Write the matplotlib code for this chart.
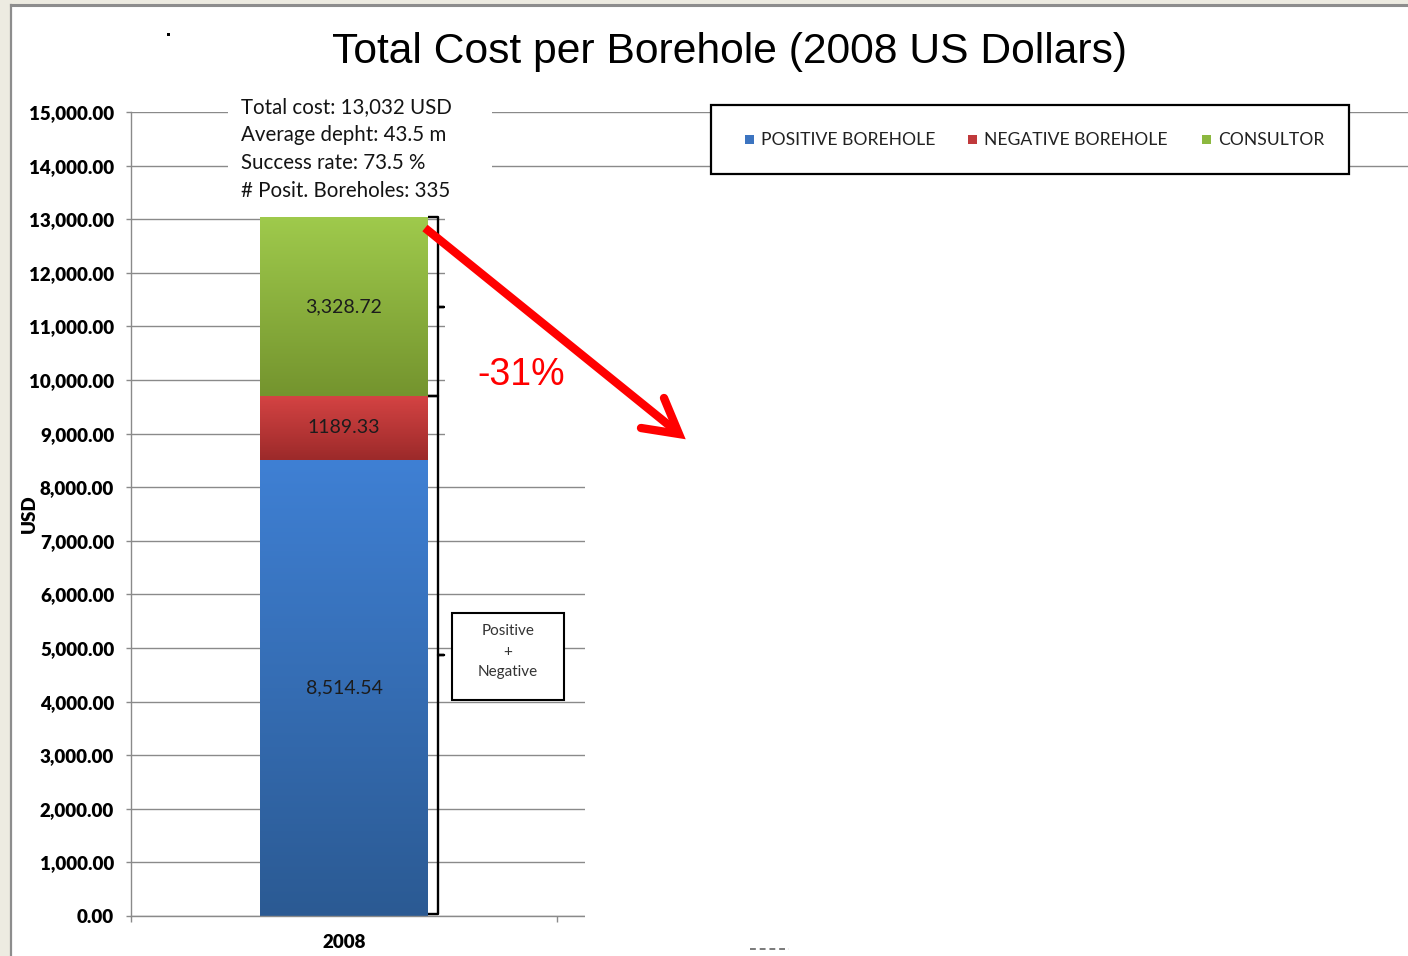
import numpy as np
import matplotlib
matplotlib.use("Agg")
import matplotlib.pyplot as plt
from matplotlib.patches import Rectangle
from matplotlib.colors import LinearSegmentedColormap
from matplotlib.ticker import FuncFormatter, MultipleLocator, FixedLocator

# ---- data -------------------------------------------------------------
categories = ["2008"]
series_names = ["POSITIVE BOREHOLE", "NEGATIVE BOREHOLE", "CONSULTOR"]
positive = [8514.54]
negative = [1189.33]
consultor = [3328.72]
label_formats = ["{:,.2f}", "{:.2f}", "{:,.2f}"]
info_lines = ["Total cost: 13,032 USD", "Average depht: 43.5 m",
              "Success rate: 73.5 %", "# Posit. Boreholes: 335"]
bracket_note = ["Positive", "+", "Negative"]
change_label = "-31%"
title = "Total Cost per Borehole (2008 US Dollars)"
y_label = "USD"
y_max, y_step = 15000, 1000

# ---- styling ----------------------------------------------------------
W, H = 1408, 956
CAL = "Lato"
ARIAL = "Liberation Sans"
grad_colors = [("#3f80d4", "#2b5a93"),   # positive (top, bottom)
               ("#d44343", "#9c2a2a"),   # negative
               ("#9fca4c", "#74942e")]   # consultor
legend_colors = ["#3c74c0", "#c0393b", "#8cb83f"]
grid_grey = "#8a8a8a"

fig = plt.figure(figsize=(W / 100, H / 100), dpi=100, facecolor="#edebe1")

# white slide area with a grey frame on the left and top
fig.add_artist(Rectangle((11 / W, 0), 1, 1 - 5 / H, transform=fig.transFigure,
                         facecolor="white", edgecolor="none", zorder=-5))
fig.add_artist(plt.Line2D([11 / W, 11 / W], [0, 1 - 5 / H], transform=fig.transFigure,
                          color="#8d8d8d", lw=1.6, zorder=-4))
fig.add_artist(plt.Line2D([11 / W, 1], [1 - 5 / H, 1 - 5 / H], transform=fig.transFigure,
                          color="#8d8d8d", lw=2.2, zorder=-4))

# ---- main chart -------------------------------------------------------
ax_left, ax_right, ax_top, ax_bottom = 131, 1408, 112, 916
cat_px = 426.0
ax = fig.add_axes([ax_left / W, 1 - ax_bottom / H,
                   (ax_right - ax_left) / W, (ax_bottom - ax_top) / H])
ax.patch.set_alpha(0)

x = np.arange(len(categories))
bar_w = 168 / cat_px


def gradient_bar(xc, bottom, height, top_c, bot_c, z):
    bar = ax.bar(xc, height, width=bar_w, bottom=bottom, color=top_c,
                 linewidth=0, zorder=z)[0]
    cmap = LinearSegmentedColormap.from_list("g", [bot_c, top_c])
    grad = np.linspace(0, 1, 256).reshape(-1, 1)
    im = ax.imshow(grad, cmap=cmap, origin="lower", aspect="auto",
                   extent=[xc - bar_w / 2, xc + bar_w / 2, bottom, bottom + height],
                   interpolation="bilinear", zorder=z + 0.1)
    im.set_clip_path(bar)
    return bar


series = [positive, negative, consultor]
bottoms = np.zeros(len(categories))
for vals, (tc, bc), fmt in zip(series, grad_colors, label_formats):
    vals = np.asarray(vals)
    for i in range(len(categories)):
        gradient_bar(x[i], bottoms[i], vals[i], tc, bc, 2)
        ax.text(x[i], bottoms[i] + vals[i] / 2, fmt.format(vals[i]),
                ha="center", va="center", fontsize=14, family=CAL,
                color="#1c1c1c", zorder=4)
    bottoms = bottoms + vals

# curly brackets to the right of the stack
xr = bar_w / 2
xb = (438 - 344) / cat_px
xt = (444 - 344) / cat_px
pos0 = np.asarray(positive)[0]
neg0 = np.asarray(negative)[0]
cons0 = np.asarray(consultor)[0]
total = pos0 + neg0 + cons0
low_top = pos0 + neg0


def bracket(top, bot):
    mid = (top + bot) / 2
    ax.plot([xr, xb, xb, xt, xb, xb, xr], [top, top, mid, mid, mid, bot, bot],
            color="black", lw=1.7, solid_joinstyle="round", solid_capstyle="butt",
            zorder=5, clip_on=False)


bracket(total, low_top)
bracket(low_top, 40)

ax.set_ylim(0, y_max)
ax.set_xlim(-0.5, -0.5 + (ax_right - ax_left) / cat_px)
ax.yaxis.set_major_locator(MultipleLocator(y_step))
ax.yaxis.set_major_formatter(FuncFormatter(lambda v, p: f"{v:,.2f}"))
ax.set_axisbelow(True)
ax.yaxis.grid(True, color=grid_grey, lw=1.0)
for s in ("top", "right"):
    ax.spines[s].set_visible(False)
for s in ("left", "bottom"):
    ax.spines[s].set_color(grid_grey)
    ax.spines[s].set_linewidth(1.0)
ax.tick_params(axis="y", direction="out", length=3.6, width=1, color=grid_grey,
               pad=8.5, labelsize=13.5)
for lab in ax.get_yticklabels():
    lab.set_fontweight("heavy")
    lab.set_family(CAL)

ax.xaxis.set_major_locator(FixedLocator([-0.5, 0.5, 1.5]))
ax.xaxis.set_minor_locator(FixedLocator(list(x)))
ax.xaxis.set_major_formatter(FuncFormatter(lambda v, p: ""))
ax.xaxis.set_minor_formatter(FuncFormatter(lambda v, p: categories[int(round(v))]
                                           if 0 <= round(v) < len(categories) else ""))
ax.tick_params(axis="x", which="major", direction="out", length=4.5, width=1,
               color=grid_grey)
ax.tick_params(axis="x", which="minor", length=0, pad=13, labelsize=13.5)
for lab in ax.get_xticklabels(minor=True):
    lab.set_fontweight("heavy")
    lab.set_family(CAL)

ax.set_ylabel(y_label, fontsize=13.5, fontweight="heavy", family=CAL)
ax.yaxis.set_label_coords((38 - ax_left) / (ax_right - ax_left), 0.5)

# ---- overlay drawn in pixel coordinates ------------------------------
ov = fig.add_axes([0, 0, 1, 1], zorder=10)
ov.set_xlim(0, W)
ov.set_ylim(H, 0)
ov.axis("off")
ov.patch.set_alpha(0)


def box(x0, y0, x1, y1, ec="none", lw=0.0, z=1):
    ov.add_patch(Rectangle((x0, y0), x1 - x0, y1 - y0, facecolor="white",
                           edgecolor=ec, lw=lw, zorder=z))


# white panels sitting over the chart area
box(445, 195, W + 2, 468)
box(585, 195, W + 2, H + 2)
box(228, 90, 492, 205)

# title
ov.text(730, 52, title, ha="center", va="center", fontsize=30.7, family=ARIAL,
        color="black", zorder=5)
ov.add_patch(Rectangle((167, 33), 3, 3, facecolor="black", edgecolor="none", zorder=5))

# info lines
for i, line in enumerate(info_lines):
    ov.text(241, 107 + 28 * i, line, ha="left", va="center", fontsize=14.8,
            family=CAL, color="#141414", zorder=5)

# legend
box(711, 105, 1349, 174, ec="black", lw=1.6, z=4)
leg_sq = [745, 968, 1202]
for sx, name, c in zip(leg_sq, series_names, legend_colors):
    ov.add_patch(Rectangle((sx, 135), 9, 9, facecolor=c, edgecolor="none", zorder=5))
    ov.text(sx + 16, 140, name, ha="left", va="center", fontsize=12.6, family=CAL,
            color="#222222", zorder=5)

# percentage change arrow
ov.plot([425, 676], [228, 431], color="#ff0000", lw=6, solid_capstyle="butt", zorder=6)
ov.plot([641, 679, 664], [428, 434, 398], color="#ff0000", lw=6,
        solid_capstyle="round", solid_joinstyle="miter", zorder=6)
ov.text(477, 375, change_label, ha="left", va="center", fontsize=27, family=ARIAL,
        color="#ff0000", zorder=6)

# note box next to the lower bracket
box(452, 613, 564, 700, ec="black", lw=1.5, z=4)
for yy, t in zip([631, 652, 672], bracket_note):
    ov.text(508, yy, t, ha="center", va="center", fontsize=11, family=CAL,
            color="#333333", zorder=5)

# edge of the next category label peeking out at the bottom
ov.plot([750, 789], [949, 949], color="#7a7a7a", lw=1.4, ls=(0, (3, 2)), zorder=6)

fig.savefig("out.png", dpi=100, facecolor=fig.get_facecolor())
